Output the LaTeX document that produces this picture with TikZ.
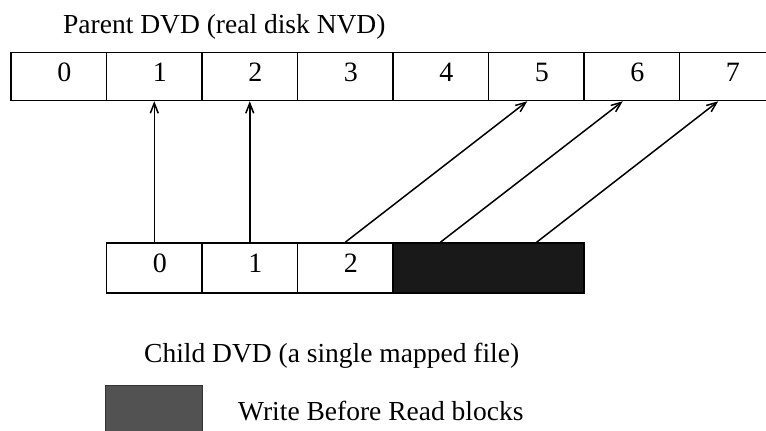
\documentclass[tikz,border=0pt]{standalone}
\usepackage{fontspec}
\setmainfont{Liberation Serif}
\usepackage{tikz}
\usetikzlibrary{arrows.meta,positioning,calc}

\begin{document}
\begin{tikzpicture}[x=1pt,y=-1pt,
    blk/.style={draw, line width=1.5pt, minimum width=95.5pt, minimum height=48pt,
        inner sep=0pt, font=\fontsize{28}{33}\selectfont, text height=0.9em, text depth=0pt,
        execute at begin node=\hspace*{11pt}},
    lbl/.style={font=\fontsize{27.5}{33}\selectfont, anchor=base west, inner sep=0pt},
    map/.style={line width=1.5pt, -{Straight Barb[length=10pt,width=8pt]}}]
    \useasboundingbox (0,0) rectangle (766,431);

    % Parent DVD
    \node[lbl] (ptitle) at (63,33) {Parent DVD (real disk NVD)};
    \foreach \i in {0,...,7} {
        \node[blk] (p\i) at ({58.75+95.5*\i},76.5) {\i};
    }

    % Child DVD
    \foreach \i in {0,1,2} {
        \node[blk, minimum height=50pt] (c\i) at ({154.25+95.5*\i},268) {\i};
    }
    \node[blk, minimum width=191pt, minimum height=50pt, fill=black!90] (wbr) at (488.5,268) {};

    % Block mapping
    \draw[map] (c0.north) -- (p1.south);
    \draw[map] (c1.north) -- (p2.south);
    \draw[map] (c2.north) -- ($(p5.south)+(-9,0)$);
    \draw[map] ($(wbr.north west)!0.25!(wbr.north east)$) -- ($(p6.south)+(-9,0)$);
    \draw[map] ($(wbr.north west)!0.75!(wbr.north east)$) -- ($(p7.south)+(-9,0)$);

    % Legend
    \node[lbl] (ctitle) at (144,362) {Child DVD (a single mapped file)};
    \node[draw=black!80, fill=black!68, minimum width=97pt, minimum height=47pt, inner sep=0pt] (legbox) at (153.5,408.5) {};
    \node[lbl] (legtxt) at (238,420) {Write Before Read blocks};
\end{tikzpicture}
\end{document}
